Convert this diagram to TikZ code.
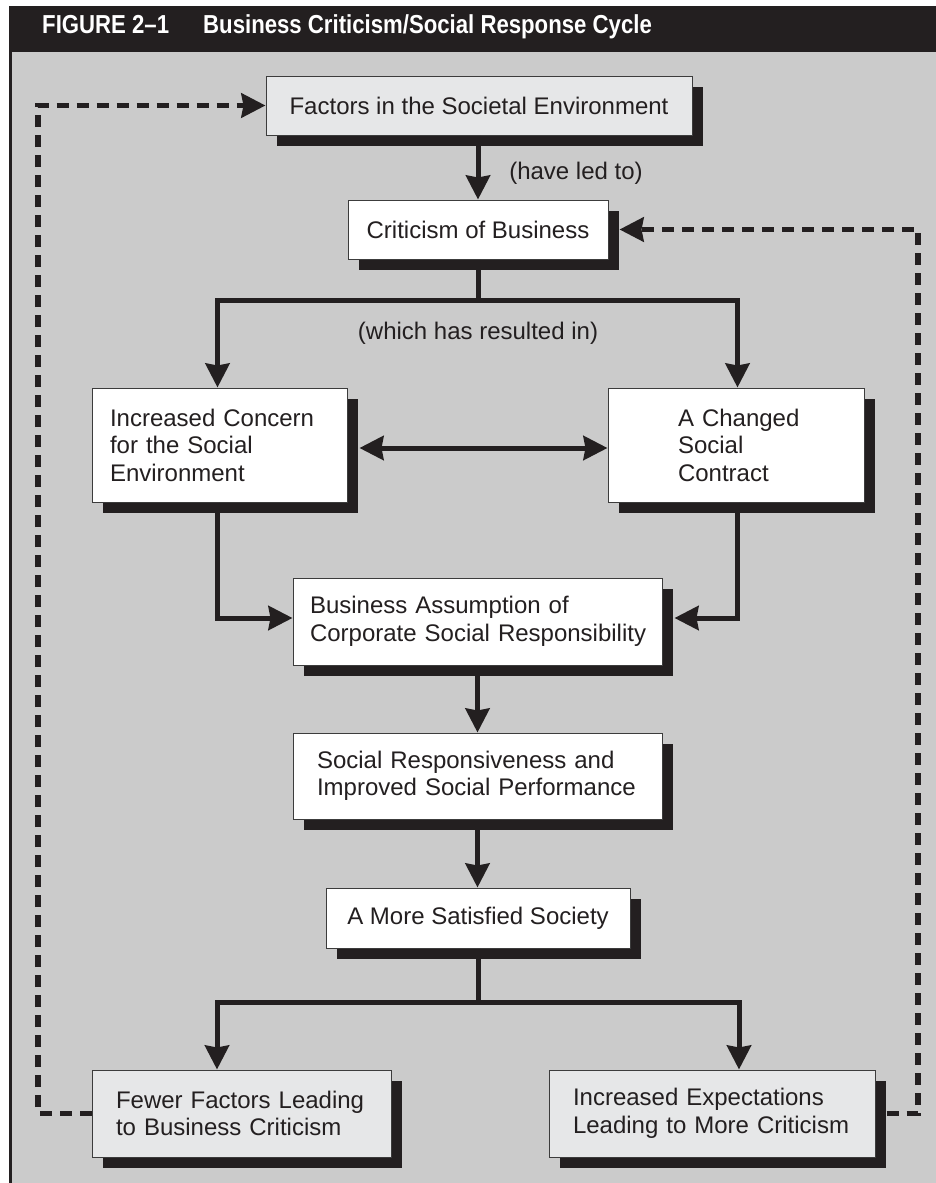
\documentclass[tikz,border=0pt]{standalone}
\usepackage{fontspec}
\setmainfont{Liberation Sans}
\newfontfamily\titlefontcn[FakeStretch=0.853]{Liberation Sans}
\usetikzlibrary{arrows.meta,shadows}
\definecolor{panel}{HTML}{CBCBCB}
\definecolor{ink}{HTML}{231F20}
\definecolor{lightbox}{HTML}{E6E7E8}
\definecolor{edge}{HTML}{3C3C3C}
\newcommand\ind[1]{\hspace*{#1}}
\begin{document}
\begin{tikzpicture}[x=1pt,y=-1pt,
  >={Stealth[length=24pt,width=24pt,inset=2pt]},
  every node/.style={font=\fontsize{24}{27.5}\selectfont, text=ink},
  bx/.style={draw=edge, line width=1pt, fill=white, inner sep=0pt, minimum height=#1,
    drop shadow={shadow xshift=11pt, shadow yshift=-11pt, fill=ink, opacity=1}},
  lbx/.style={text width=#1, align=left},
  conn/.style={draw=ink, line width=5pt},
  dconn/.style={draw=ink, line width=5.5pt, dash pattern=on 12pt off 8pt},
  lbl/.style={inner sep=0pt},
  ttl/.style={anchor=base west, inner sep=0pt, text=white, font=\titlefontcn\bfseries\fontsize{26}{28}\selectfont}
]
\useasboundingbox (0,0) rectangle (936,1183);
% frame
\fill[panel] (9,52) rectangle (936,1183);
\fill[ink] (9,6) rectangle (936,52);
\draw[ink, line width=2.5pt] (10.5,52) -- (10.5,1183);
\node[ttl] (t1) at (42,33) {FIGURE 2–1};
\node[ttl] (t2) at (203,33) {Business Criticism/Social Response Cycle};

% boxes
\node[bx=59, minimum width=426pt, fill=lightbox] (b1) at (479,105.5) {Factors in the Societal Environment};
\node[bx=59, minimum width=260pt] (b2) at (478,229.5) {Criticism of Business};
\node[bx=114, lbx=255pt] (b4) at (219.5,445) {\ind{18pt}Increased Concern\\\ind{18pt}for the Social\\\ind{18pt}Environment};
\node[bx=114, lbx=256pt] (b5) at (736,445) {\ind{70pt}A Changed\\\ind{70pt}Social\\\ind{70pt}Contract};
\node[bx=87, lbx=369pt] (b6) at (477.5,621.5) {\ind{17pt}Business Assumption of\\\ind{17pt}Corporate Social Responsibility};
\node[bx=86, lbx=369pt] (b7) at (477.5,776) {\ind{24pt}Social Responsiveness and\\\ind{24pt}Improved Social Performance};
\node[bx=60, minimum width=304pt] (b8) at (478,918) {A More Satisfied Society};
\node[bx=87, lbx=299pt, fill=lightbox] (b9) at (241.5,1113.5) {\ind{24pt}Fewer Factors Leading\\\ind{24pt}to Business Criticism};
\node[bx=87, lbx=326pt, fill=lightbox] (b10) at (712,1113.5) {\ind{24pt}Increased Expectations\\\ind{24pt}Leading to More Criticism};

% labels
\node[lbl] (l1) at (576,173) {(have led to)};
\node[lbl] (l2) at (478,333) {(which has resulted in)};

% helper points
\coordinate (s1) at (478,300);
\coordinate (L) at (217.5,300);
\coordinate (R) at (737.5,300);
\coordinate (L2) at (217.5,618);
\coordinate (R2) at (737.5,618);
\coordinate (s2) at (478,1002);
\coordinate (L3) at (217,1002);
\coordinate (R3) at (739,1002);
\coordinate (DL) at (38,1113.5);
\coordinate (DR) at (918,1113.5);
\coordinate (b4r) at ([shift={(12,3)}]b4.east);
\coordinate (b5l) at ([shift={(0,3)}]b5.west);
\coordinate (b6r) at ([shift={(12,0)}]b6.east);
\coordinate (b10r) at ([shift={(11,0)}]b10.east);
\coordinate (b2r) at ([shift={(11,0)}]b2.east);

% connectors
\draw[conn,->] (b1.south -| b2.north) -- (b2.north);
\draw[conn] (b2.south) -- (s1);
\draw[conn,->] (s1) -- (L) -- (L |- b4.north);
\draw[conn,->] (s1) -- (R) -- (R |- b5.north);
\draw[conn,<->] (b4r) -- (b5l);
\draw[conn,->] (L |- b4.south) -- (L2) -- (L2 -| b6.west);
\draw[conn,->] (R |- b5.south) -- (R2) -- (R2 -| b6r);
\draw[conn,->] (b6.south) -- (b7.north);
\draw[conn,->] (b7.south) -- (b7.south |- b8.north);
\draw[conn] (b8.south) -- (s2);
\draw[conn,->] (s2) -- (L3) -- (L3 |- b9.north);
\draw[conn,->] (s2) -- (R3) -- (R3 |- b10.north);
\draw[dconn,->] (b9.west) -- (DL) |- (b1.west);
\draw[dconn,->] (b10r) -- (DR) |- (b2r);
\end{tikzpicture}
\end{document}
